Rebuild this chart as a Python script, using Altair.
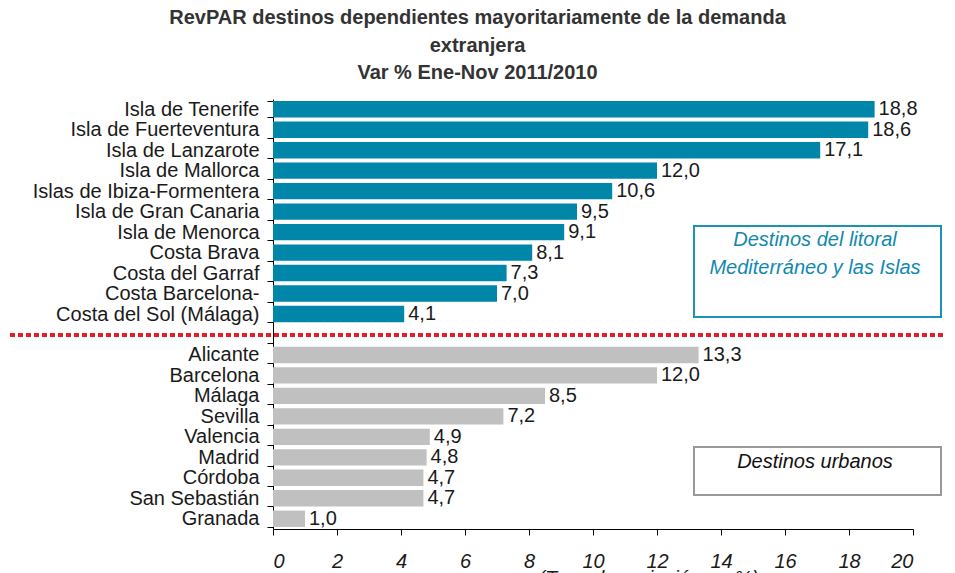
import altair as alt
import pandas as pd

# ---- data ----
litoral_names = ["Isla de Tenerife", "Isla de Fuerteventura", "Isla de Lanzarote",
                 "Isla de Mallorca", "Islas de Ibiza-Formentera", "Isla de Gran Canaria",
                 "Isla de Menorca", "Costa Brava", "Costa del Garraf", "Costa Barcelona-",
                 "Costa del Sol (Málaga)"]
litoral_values = [18.8, 18.6, 17.1, 12.0, 10.6, 9.5, 9.1, 8.1, 7.3, 7.0, 4.1]

urban_names = ["Alicante", "Barcelona", "Málaga", "Sevilla", "Valencia", "Madrid",
               "Córdoba", "San Sebastián", "Granada"]
urban_values = [13.3, 12.0, 8.5, 7.2, 4.9, 4.8, 4.7, 4.7, 1.0]

x_ticks = [0, 2, 4, 6, 8, 10, 12, 14, 16, 18, 20]
title_lines = ["RevPAR destinos dependientes mayoritariamente de la demanda",
               "extranjera", "Var % Ene-Nov 2011/2010"]
box1_lines = ["Destinos del litoral", "Mediterráneo y las Islas"]
box2_lines = ["Destinos urbanos"]
x_title = "(Tasa de variación en %)"

GAP = " "
domain = litoral_names + [GAP] + urban_names

df = pd.DataFrame({
    "name": litoral_names + urban_names,
    "value": litoral_values + urban_values,
    "group": ["litoral"] * len(litoral_names) + ["urbano"] * len(urban_names),
})
df["label"] = df["value"].map(lambda v: f"{v:.1f}".replace(".", ","))

FONT = "Liberation Sans"
TEAL = "#0086A9"
GRAY = "#C0C0C0"
TXT = "#1a1a1a"

y_enc = alt.Y("name:N", sort=domain,
              scale=alt.Scale(domain=domain, paddingInner=0.2, paddingOuter=0.1),
              axis=alt.Axis(title=None, labelFont=FONT, labelFontSize=20,
                            labelColor=TXT, labelPadding=8, tickSize=6,
                            tickBand="extent", domainColor="#000", tickColor="#000",
                            grid=False, labelLimit=400))
x_enc = alt.X("value:Q", scale=alt.Scale(domain=[0, 20], nice=False),
              axis=alt.Axis(values=x_ticks, format="d", title=x_title,
                            titleFont=FONT, titleFontSize=20, titleFontStyle="italic",
                            titleFontWeight="normal", titleColor=TXT,
                            titleX=375, titleY=39, titleAlign="center",
                            titleBaseline="top", titleAnchor="start",
                            labelFont=FONT, labelFontSize=20, labelFontStyle="italic",
                            labelColor=TXT, labelPadding=16, tickSize=6,
                            domainColor="#000", tickColor="#000", grid=False))

base = alt.Chart(df)
bars = base.mark_bar().encode(
    y=y_enc, x=x_enc,
    color=alt.Color("group:N", scale=alt.Scale(domain=["litoral", "urbano"],
                                               range=[TEAL, GRAY]), legend=None),
)
labels = base.mark_text(align="left", baseline="middle", dx=4, font=FONT,
                        fontSize=20, color=TXT).encode(
    y=alt.Y("name:N", sort=domain), x="value:Q", text="label:N")

one = pd.DataFrame({"k": [0]})
sep = alt.Chart(one).mark_rule(color="#E41E26", strokeWidth=4,
                               strokeDash=[5, 3]).encode(
    x=alt.value(-263), x2=alt.value(672), y=alt.value(236))

box1 = alt.Chart(one).mark_rect(fill="white", stroke="#1A93B5", strokeWidth=2).encode(
    x=alt.value(421), x2=alt.value(668), y=alt.value(127), y2=alt.value(218))


def text_line(txt, ypix, color):
    return alt.Chart(pd.DataFrame({"t": [txt]})).mark_text(
        font=FONT, fontSize=20, fontStyle="italic", color=color,
        align="center", baseline="middle").encode(
        text="t:N", x=alt.value(542), y=alt.value(ypix))


box1_t1 = text_line(box1_lines[0], 141, "#1189AE")
box1_t2 = text_line(box1_lines[1], 169, "#1189AE")
box2 = alt.Chart(one).mark_rect(fill="white", stroke="#999999", strokeWidth=2).encode(
    x=alt.value(421), x2=alt.value(668), y=alt.value(348), y2=alt.value(396))
box2_t = text_line(box2_lines[0], 363, "#111111")

chart = alt.layer(bars, labels, sep, box1, box1_t1, box1_t2, box2, box2_t).properties(
    width=640, height=430,
    title=alt.Title(text=title_lines, font=FONT, fontSize=20, fontWeight="bold",
                    color="#333", lineHeight=27.5, anchor="middle", frame="bounds",
                    offset=6),
    autosize=alt.AutoSizeParams(type="none"),
    padding={"left": 265, "top": 91, "right": 34, "bottom": 44},
).configure_view(stroke=None)

chart.save("out.html", embed_options={"renderer": "svg", "actions": False})
